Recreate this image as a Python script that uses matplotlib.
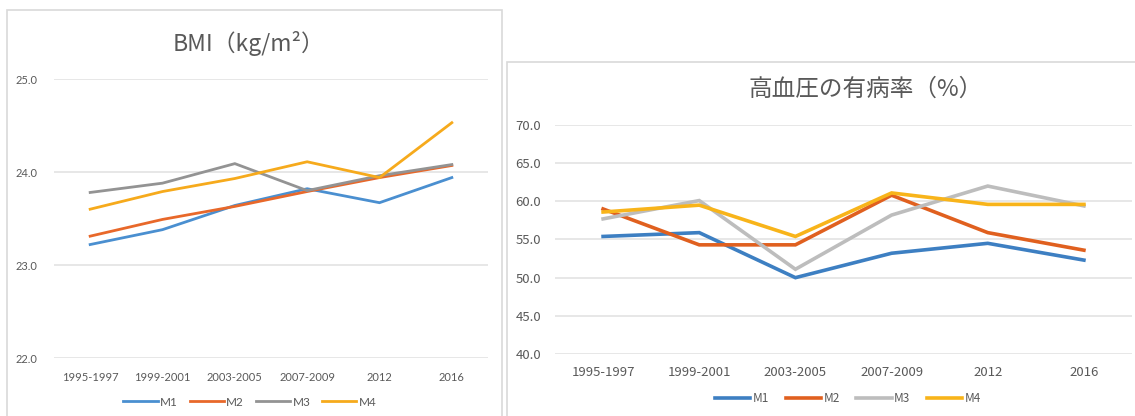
import matplotlib
matplotlib.use("Agg")
from matplotlib import pyplot as plt
from matplotlib.patches import Rectangle

# categories and series
periods = ["1995-1997", "1999-2001", "2003-2005", "2007-2009", "2012", "2016"]
series_names = ["M1", "M2", "M3", "M4"]

# BMI (kg/m2)
bmi_m1 = [23.22, 23.38, 23.64, 23.82, 23.67, 23.94]
bmi_m2 = [23.31, 23.49, 23.63, 23.79, 23.94, 24.07]
bmi_m3 = [23.78, 23.88, 24.09, 23.80, 23.96, 24.08]
bmi_m4 = [23.60, 23.79, 23.93, 24.11, 23.94, 24.53]

# hypertension prevalence (%)
hbp_m1 = [55.4, 55.9, 50.0, 53.2, 54.5, 52.3]
hbp_m2 = [59.0, 54.3, 54.3, 60.8, 55.9, 53.6]
hbp_m3 = [57.7, 60.1, 51.1, 58.2, 62.0, 59.4]
hbp_m4 = [58.6, 59.5, 55.4, 61.1, 59.6, 59.6]

bmi_ticks = [22.0, 23.0, 24.0, 25.0]
hbp_ticks = [40.0, 45.0, 50.0, 55.0, 60.0, 65.0, 70.0]

left_colors = ["#4a8fd0", "#e8682a", "#939393", "#f6aa1c"]
right_colors = ["#3d7fc2", "#e0601f", "#bdbdbd", "#f8b41a"]

W, H = 1135, 416
fig = plt.figure(figsize=(W / 100, H / 100), dpi=100)
fig.patch.set_facecolor("white")

# chart panels (frames), kept behind the axes
fig.patches.append(Rectangle((7 / W, -0.05), 495 / W, (H - 10) / H + 0.05,
                             transform=fig.transFigure, facecolor="white",
                             edgecolor="#d9d9d9", lw=1.2, zorder=-5))
fig.patches.append(Rectangle((507 / W, -0.05), 640 / W, (H - 62) / H + 0.05,
                             transform=fig.transFigure, facecolor="white",
                             edgecolor="#d9d9d9", lw=1.2, zorder=-5))

cjk = ["Noto Sans CJK JP", "DejaVu Sans"]
txt = "#595959"


def style(ax, ticks, fmt_font, tick_size, pad_y, pad_x):
    ax.set_facecolor("none")
    for s in ax.spines.values():
        s.set_visible(False)
    ax.set_xlim(-0.5, 5.5)
    ax.set_ylim(ticks[0], ticks[-1])
    ax.set_yticks(ticks)
    ax.set_yticklabels(["%.1f" % t for t in ticks], family=fmt_font,
                       fontsize=tick_size, color=txt)
    ax.set_xticks(range(len(periods)))
    ax.set_xticklabels(periods, family=fmt_font, fontsize=tick_size, color=txt)
    ax.tick_params(axis="both", length=0)
    ax.tick_params(axis="y", pad=pad_y)
    ax.tick_params(axis="x", pad=pad_x)
    ax.yaxis.grid(True, color="#e0e0e0", lw=1.1)
    ax.set_axisbelow(True)


# left chart: BMI
ax1 = fig.add_axes([54 / W, (H - 358) / H, 434 / W, 279 / H])
style(ax1, bmi_ticks, ["Lato", "DejaVu Sans"], 8, 12, 10)
for name, vals, c in zip(series_names, [bmi_m1, bmi_m2, bmi_m3, bmi_m4], left_colors):
    ax1.plot(range(len(periods)), vals, color=c, lw=2.0, label=name,
             solid_joinstyle="miter")
fig.text(249 / W, (H - 43) / H, "BMI（kg/m²）", family=cjk, fontsize=16.5,
         color=txt, ha="center", va="center")
ax1.legend(loc="center", bbox_to_anchor=(250 / W, (H - 402) / H),
           bbox_transform=fig.transFigure, ncol=4, frameon=False,
           handlelength=2.9, handletextpad=0.2, columnspacing=1.0,
           prop={"family": ["Lato", "DejaVu Sans"], "size": 8.5},
           labelcolor=txt)

# right chart: hypertension prevalence
ax2 = fig.add_axes([555 / W, (H - 354) / H, 577 / W, 229 / H])
style(ax2, hbp_ticks, cjk, 9.5, 10, 9)
for name, vals, c in zip(series_names, [hbp_m1, hbp_m2, hbp_m3, hbp_m4], right_colors):
    ax2.plot(range(len(periods)), vals, color=c, lw=2.6, label=name,
             solid_joinstyle="miter")
fig.text(866 / W, (H - 89) / H, "高血圧の有病率（%）", family=cjk, fontsize=17,
         color=txt, ha="center", va="center")
ax2.legend(loc="center", bbox_to_anchor=(848 / W, (H - 399) / H),
           bbox_transform=fig.transFigure, ncol=4, frameon=False,
           handlelength=3.0, handletextpad=0.2, columnspacing=1.4,
           prop={"family": cjk, "size": 8.5}, labelcolor=txt)

fig.savefig("out.png", dpi=100, facecolor=fig.get_facecolor())
